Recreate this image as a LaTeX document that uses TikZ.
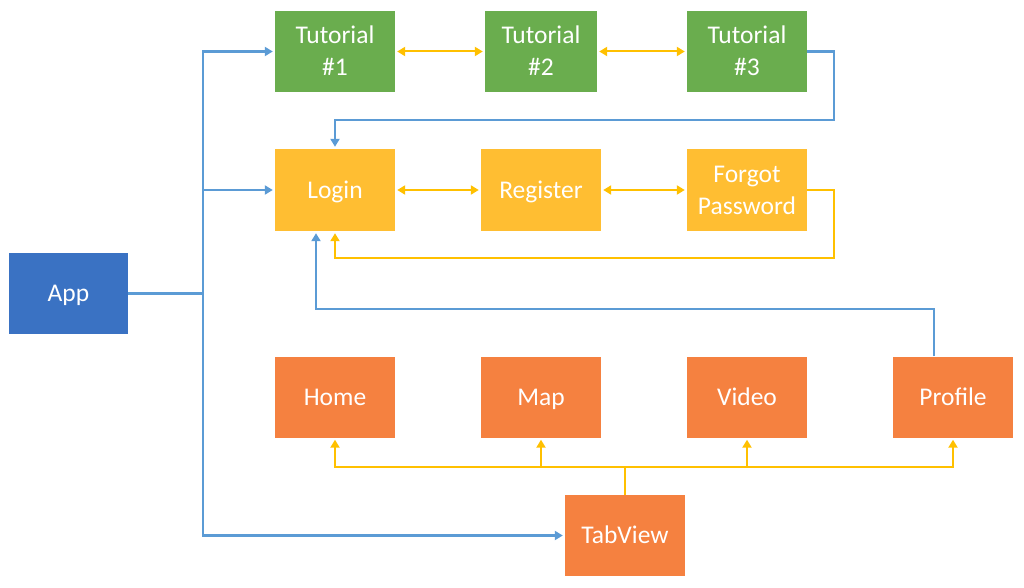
\documentclass[tikz,border=0pt]{standalone}
\usepackage{fontspec}
\setmainfont{Carlito}
\usetikzlibrary{arrows.meta}
\newcommand\lblstrut{\rule[-7pt]{0pt}{30pt}}
\definecolor{appblue}{HTML}{3A72C3}
\definecolor{tutgreen}{HTML}{6AAD4E}
\definecolor{loginyellow}{HTML}{FFBE32}
\definecolor{taborange}{HTML}{F58140}
\definecolor{linkblue}{HTML}{5B9BD5}
\definecolor{linkyellow}{HTML}{FFC000}
\tikzset{
  box/.style={rectangle, draw=none, minimum width=120pt, minimum height=81pt, inner sep=0pt,
    text=white, align=center, font=\fontsize{25.5}{32}\selectfont},
  appbox/.style={box, fill=appblue, minimum width=119pt},
  tutbox/.style={box, fill=tutgreen},
  logbox/.style={box, fill=loginyellow, minimum height=82pt},
  tabbox/.style={box, fill=taborange},
  blueline/.style={draw=linkblue, line width=2.2pt},
  yellowline/.style={draw=linkyellow, line width=2pt},
  tipb/.style={-{Triangle[length=8pt,width=9pt]}, shorten >=2pt},
  tipd/.style={{Triangle[length=8pt,width=9pt]}-{Triangle[length=8pt,width=9pt]}, shorten >=2pt, shorten <=2pt}
}
\begin{document}
\begin{tikzpicture}[x=1pt,y=-1pt]
\useasboundingbox (0,0) rectangle (1024,588);
\node[appbox] (App) at (68.5,293.5) {\lblstrut App};
\node[tutbox] (Tut1) at (335,51.5) {\lblstrut Tutorial\\\lblstrut\#1};
\node[tutbox, minimum width=112pt] (Tut2) at (541,51.5) {\lblstrut Tutorial\\\lblstrut\#2};
\node[tutbox] (Tut3) at (747,51.5) {\lblstrut Tutorial\\\lblstrut\#3};
\node[logbox] (Login) at (335,190) {\lblstrut Login};
\node[logbox] (Reg) at (541,190) {\lblstrut Register};
\node[logbox] (Forgot) at (747,190) {\lblstrut Forgot\\\lblstrut Password};
\node[tabbox] (Home) at (335,397) {\lblstrut Home};
\node[tabbox] (Map) at (541,397) {\lblstrut Map};
\node[tabbox] (Video) at (747,397) {\lblstrut Video};
\node[tabbox] (Profile) at (953,397) {\lblstrut Profile};
\node[tabbox] (Tab) at (625,535.5) {\lblstrut TabView};

% App trunk
\coordinate (j) at (203,293.5);
\draw[blueline] (App.east) -- (j);
\draw[blueline, tipb] (j) |- (Tut1.west);
\draw[blueline, tipb] (j) |- (Login.west);
\draw[blueline, tipb] (j) |- (Tab.west);

% tutorials
\draw[yellowline, tipd] (Tut1.east) -- (Tut2.west);
\draw[yellowline, tipd] (Tut2.east) -- (Tut3.west);
\coordinate (c1) at (834,120);
\draw[blueline, tipb] (Tut3.east) -| (c1) -| (Login.north);

% login row
\draw[yellowline, tipd] (Login.east) -- (Reg.west);
\draw[yellowline, tipd] (Reg.east) -- (Forgot.west);
\coordinate (c2) at (834,258);
\draw[yellowline, tipb] (Forgot.east) -| (c2) -| (Login.south);

% profile to login
\coordinate (c3) at (934,309);
\draw[blueline, tipb] ([xshift=-19pt]Profile.north) |- (c3) -| ([xshift=-19pt]Login.south);

% tabview children
\coordinate (t) at (625,466.5);
\draw[yellowline] (Tab.north) -- (t);
\draw[yellowline, tipb] (t) -| (Home.south);
\draw[yellowline, tipb] (t) -| (Map.south);
\draw[yellowline, tipb] (t) -| (Video.south);
\draw[yellowline, tipb] (t) -| (Profile.south);
\end{tikzpicture}
\end{document}
